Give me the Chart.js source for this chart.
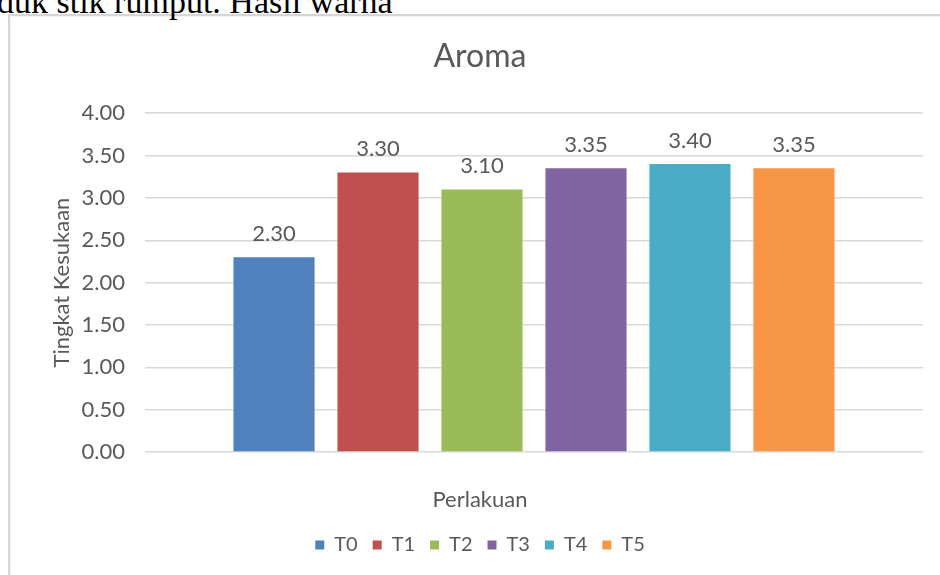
<!DOCTYPE html>
<html>
<head>
<meta charset="utf-8">
<script src="https://cdn.jsdelivr.net/npm/chart.js@4/dist/chart.umd.min.js"></script>
<style>
  html, body { margin: 0; padding: 0; background: #fff; overflow: hidden; }
  body { width: 940px; height: 575px; position: relative; }
  #para {
    position: absolute; left: -3px; top: -15px;
    font-family: "Liberation Serif", "Times New Roman", serif;
    font-size: 34px; line-height: 34px; color: #000; white-space: nowrap;
  }
  #frame {
    position: absolute; left: 8px; top: 14px; width: 1000px; height: 700px;
    border-left: 2px solid #d6d6d6; border-top: 2px solid #d6d6d6;
    box-shadow: inset 1px 1px 2px rgba(0,0,0,0.06);
  }
  #wrap { position: absolute; left: 0; top: 0; width: 940px; height: 575px; }
</style>
</head>
<body>
<div id="frame"></div>
<div id="para">duk stik rumput. Hasil warna</div>
<div id="wrap"><canvas id="c"></canvas></div>
<script>
// Aroma preference scores per treatment
const categories = [''];
const seriesNames = ['T0', 'T1', 'T2', 'T3', 'T4', 'T5'];
const seriesValues = [2.30, 3.30, 3.10, 3.35, 3.40, 3.35];
const seriesColors = ['#4F81BD', '#C0504D', '#9BBB59', '#8064A2', '#4BACC6', '#F79646'];
const yTicks = [0, 0.5, 1, 1.5, 2, 2.5, 3, 3.5, 4];

const textColor = '#595959';
const fontFamily = 'Lato, "Open Sans", sans-serif';

// writes each bar's value just above it
const valueLabels = {
  id: 'valueLabels',
  afterDatasetsDraw(chart) {
    const ctx = chart.ctx;
    ctx.save();
    ctx.font = '22px ' + fontFamily;
    ctx.fillStyle = textColor;
    ctx.textAlign = 'center';
    ctx.textBaseline = 'alphabetic';
    chart.data.datasets.forEach((ds, i) => {
      const meta = chart.getDatasetMeta(i);
      meta.data.forEach((bar, j) => {
        ctx.fillText(ds.data[j].toFixed(2), bar.x, bar.y - 16);
      });
    });
    ctx.restore();
  }
};

new Chart(document.getElementById('c'), {
  type: 'bar',
  data: {
    labels: categories,
    datasets: seriesNames.map((name, i) => ({
      label: name,
      data: [seriesValues[i]],
      backgroundColor: seriesColors[i],
      borderWidth: 0,
      categoryPercentage: 0.802,
      barPercentage: 0.78
    }))
  },
  options: {
    responsive: true,
    maintainAspectRatio: false,
    animation: false,
    layout: { padding: { left: 37, right: 17, top: 0, bottom: 10 } },
    scales: {
      x: { display: false },
      y: {
        min: 0, max: 4,
        afterBuildTicks(scale) { scale.ticks = yTicks.map(v => ({ value: v })); },
        afterFit(scale) { scale.width = 108; },
        grid: { color: '#d9d9d9', lineWidth: 1.5, drawTicks: false },
        border: { display: false },
        ticks: {
          padding: 20,
          color: textColor,
          font: { family: fontFamily, size: 22 },
          callback: v => Number(v).toFixed(2)
        },
        title: {
          display: true,
          text: 'Tingkat Kesukaan',
          color: textColor,
          font: { family: fontFamily, size: 22 },
          padding: { top: 12, bottom: 0 }
        }
      }
    },
    plugins: {
      title: {
        display: true,
        text: 'Aroma',
        color: textColor,
        font: { family: fontFamily, size: 32, weight: 'normal' },
        padding: { top: 37, bottom: 37.8 }
      },
      legend: {
        position: 'bottom',
        title: {
          display: true,
          text: 'Perlakuan',
          color: textColor,
          font: { family: fontFamily, size: 22 },
          padding: { top: 37, bottom: 4.6 }
        },
        labels: {
          color: textColor,
          font: { family: fontFamily, size: 20 },
          boxWidth: 9,
          boxHeight: 9,
          padding: 15
        }
      },
      tooltip: { enabled: false }
    }
  },
  plugins: [valueLabels]
});
</script>
</body>
</html>
